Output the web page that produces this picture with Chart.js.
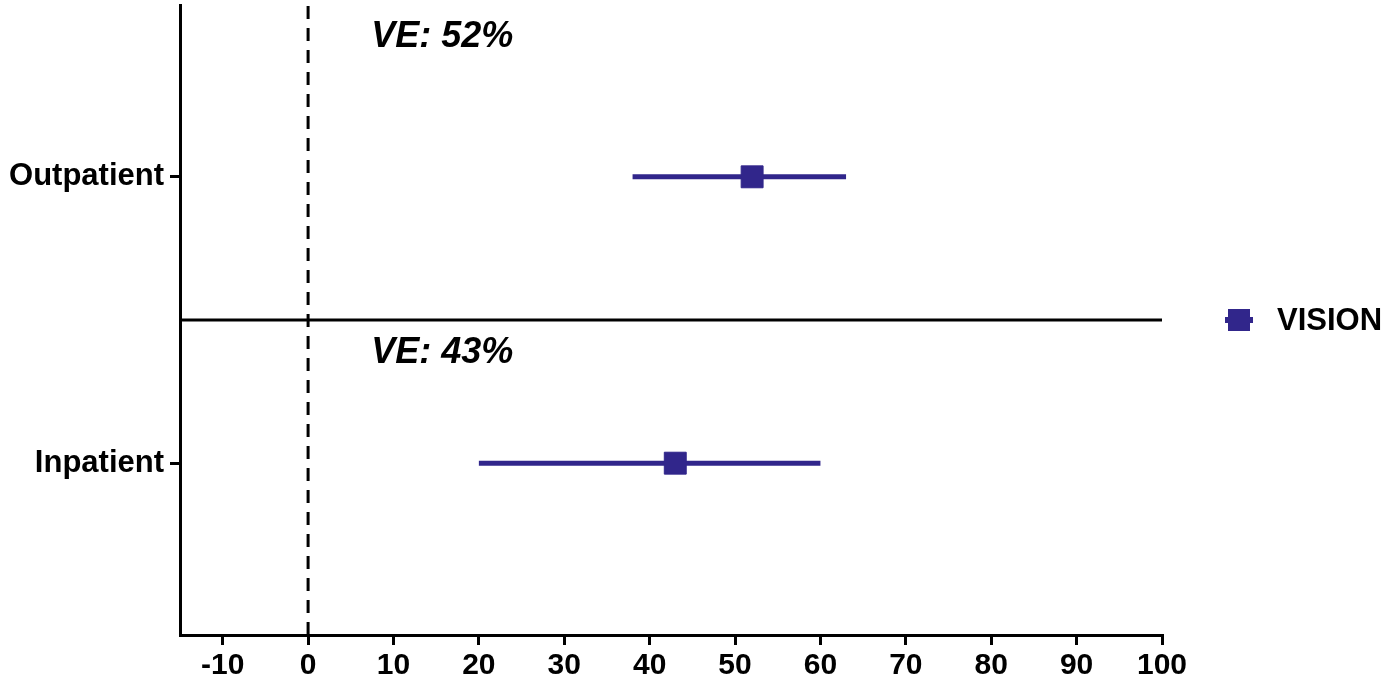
<!DOCTYPE html>
<html>
<head>
<meta charset="utf-8">
<script src="https://cdn.jsdelivr.net/npm/chart.js@4.4.1/dist/chart.umd.min.js"></script>
<style>
  html, body { margin: 0; padding: 0; background: #fff; }
  #wrap { width: 1383px; height: 682px; position: relative; }
</style>
</head>
<body>
<div id="wrap"><canvas id="forest"></canvas></div>
<script>
// Data
const categories = ['Outpatient', 'Inpatient'];
const rowPos = [8, 3];            // y position of each row on a 0..11 scale
const vePoint = [52, 43];         // vaccine effectiveness, %
const ciLow = [38, 20];           // lower 95% CI
const ciHigh = [63, 60];          // upper 95% CI
const xTicks = [-10, 0, 10, 20, 30, 40, 50, 60, 70, 80, 90, 100];
const seriesName = 'VISION';

const COLOR = '#31268b';
const FONT = "'Liberation Sans', Arial, sans-serif";

// Error bar datasets, one per row
const ciSets = categories.map((c, i) => ({
    type: 'line',
    label: c + ' CI',
    data: [{ x: ciLow[i], y: rowPos[i] }, { x: ciHigh[i], y: rowPos[i] }],
    borderColor: COLOR,
    borderWidth: 5,
    pointRadius: 0,
    order: 1
}));

// Annotation text and legend drawn with the chart scales
const textPlugin = {
    id: 'veText',
    afterDraw(chart) {
        const { ctx, scales: { x, y } } = chart;
        const labelY = [10.27, 4.75];   // baseline of each VE label, in y units
        ctx.save();
        ctx.fillStyle = '#000';
        ctx.font = `italic bold 36px ${FONT}`;
        ctx.textAlign = 'left';
        ctx.textBaseline = 'alphabetic';
        categories.forEach((c, i) => {
            ctx.fillText(`VE: ${vePoint[i]}%`, x.getPixelForValue(7.4), y.getPixelForValue(labelY[i]));
        });

        // legend on the right
        const ly = y.getPixelForValue(5.5);
        ctx.fillStyle = COLOR;
        ctx.fillRect(1228, ly - 11, 22, 22);
        ctx.fillRect(1225, ly - 3, 28, 6);
        ctx.fillStyle = '#000';
        ctx.font = `bold 31px ${FONT}`;
        ctx.textBaseline = 'middle';
        ctx.fillText(seriesName, 1277, ly + 1);
        ctx.restore();
    }
};

new Chart(document.getElementById('forest'), {
    type: 'scatter',
    data: {
        datasets: [
            {
                label: seriesName,
                data: categories.map((c, i) => ({ x: vePoint[i], y: rowPos[i] })),
                backgroundColor: COLOR,
                borderColor: COLOR,
                pointStyle: 'rect',
                pointRadius: 15.5,
                pointHoverRadius: 15.5,
                order: 0
            },
            ...ciSets,
            {
                type: 'line',
                label: 'zero',
                data: [{ x: 0, y: 0 }, { x: 0, y: 11 }],
                borderColor: '#000',
                borderWidth: 3,
                borderDash: [13, 9],
                pointRadius: 0,
                order: 2
            },
            {
                type: 'line',
                label: 'divider',
                data: [{ x: -15, y: 5.5 }, { x: 100, y: 5.5 }],
                borderColor: '#000',
                borderWidth: 3,
                pointRadius: 0,
                order: 2
            }
        ]
    },
    options: {
        responsive: true,
        maintainAspectRatio: false,
        animation: false,
        layout: { autoPadding: false, padding: { top: 5, right: 221, left: 0, bottom: 0 } },
        plugins: {
            legend: { display: false },
            tooltip: { enabled: false }
        },
        scales: {
            x: {
                type: 'linear',
                min: -15,
                max: 100,
                afterBuildTicks: (scale) => { scale.ticks = xTicks.map(v => ({ value: v })); },
                afterFit: (scale) => { scale.height = 47; },
                grid: { display: true, drawOnChartArea: false, tickLength: 10, color: '#000', lineWidth: 3 },
                border: { display: true, color: '#000', width: 3 },
                ticks: {
                    color: '#000',
                    font: { family: FONT, size: 30, weight: 'bold' },
                    padding: 3,
                    maxRotation: 0
                }
            },
            y: {
                type: 'linear',
                min: 0,
                max: 11,
                afterBuildTicks: (scale) => { scale.ticks = rowPos.map(v => ({ value: v })); },
                afterFit: (scale) => {
                    scale.width = 180;
                    scale.paddingTop = 0;
                    scale.paddingBottom = 0;
                },
                grid: { display: true, drawOnChartArea: false, tickLength: 10, color: '#000', lineWidth: 3 },
                border: { display: true, color: '#000', width: 3 },
                ticks: {
                    color: '#000',
                    font: { family: FONT, size: 31, weight: 'bold' },
                    padding: 6,
                    callback: (v) => categories[rowPos.indexOf(v)]
                }
            }
        }
    },
    plugins: [textPlugin]
});
</script>
</body>
</html>
